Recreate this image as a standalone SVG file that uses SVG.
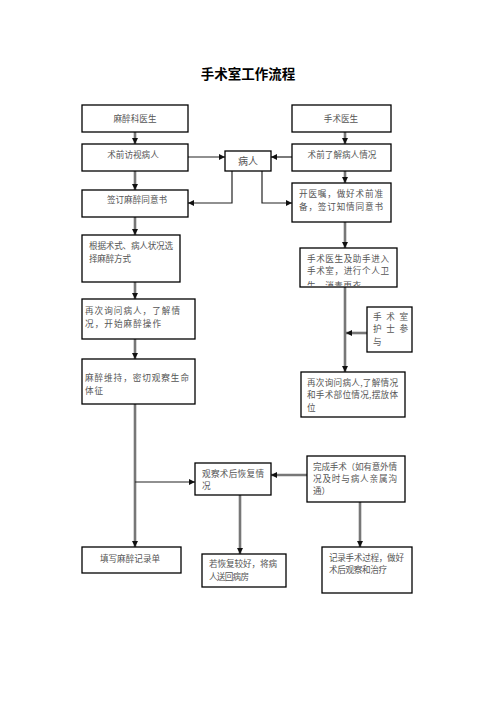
<svg xmlns="http://www.w3.org/2000/svg" width="496" height="702" viewBox="0 0 496 702">
<style>
.box{fill:#fff;stroke:#000;stroke-width:1.3}
.t{font-family:"Noto Sans CJK SC","Noto Sans CJK JP",sans-serif;font-size:8.6px;fill:#555}
.c{text-anchor:middle}
.thick{fill:none;stroke:#777;stroke-width:2.6}
.thin{fill:none;stroke:#222;stroke-width:1.2}
</style>
<defs>
<marker id="ah" viewBox="0 0 10 10" refX="10" refY="5" markerWidth="6" markerHeight="6" markerUnits="userSpaceOnUse" orient="auto">
<path d="M0,0 L10,5 L0,10 z" fill="#111"/>
</marker>
<clipPath id="clip1"><rect x="300" y="248" width="97" height="38"/></clipPath>
</defs>
<rect width="496" height="702" fill="#fff"/>
<text x="248" y="78.5" class="c" style="font-family:'Noto Sans CJK SC',sans-serif;font-size:13.5px;font-weight:bold;fill:#000">手术室工作流程</text>

<g id="connectors">
<line class="thick" x1="135" y1="132" x2="135" y2="144" marker-end="url(#ah)"/>
<line class="thick" x1="345" y1="132" x2="345" y2="144" marker-end="url(#ah)"/>
<line class="thin" x1="188" y1="157" x2="225" y2="157" marker-end="url(#ah)"/>
<line class="thin" x1="292" y1="157" x2="271" y2="157" marker-end="url(#ah)"/>
<polyline class="thin" points="232,171 232,203 188,203" marker-end="url(#ah)"/>
<polyline class="thin" points="262,171 262,203 292,203" marker-end="url(#ah)"/>
<line class="thick" x1="135" y1="171" x2="135" y2="190" marker-end="url(#ah)"/>
<line class="thick" x1="345" y1="171" x2="345" y2="183" marker-end="url(#ah)"/>
<line class="thick" x1="135" y1="217" x2="135" y2="235" marker-end="url(#ah)"/>
<line class="thick" x1="135" y1="282" x2="135" y2="299" marker-end="url(#ah)"/>
<line class="thick" x1="135" y1="339" x2="135" y2="359" marker-end="url(#ah)"/>
<line class="thick" x1="345" y1="222" x2="345" y2="248" marker-end="url(#ah)"/>
<line class="thick" x1="345" y1="287" x2="345" y2="372" marker-end="url(#ah)"/>
<line class="thick" x1="367" y1="333" x2="346" y2="333" marker-end="url(#ah)"/>
<line class="thick" x1="135" y1="404" x2="135" y2="547" marker-end="url(#ah)"/>
<line class="thin" x1="135" y1="482" x2="195" y2="482" marker-end="url(#ah)"/>
<line class="thick" x1="307" y1="475" x2="271" y2="475" marker-end="url(#ah)"/>
<line class="thick" x1="240" y1="495" x2="240" y2="554" marker-end="url(#ah)"/>
<line class="thick" x1="360" y1="502" x2="360" y2="547" marker-end="url(#ah)"/>
</g>

<g id="n1"><rect class="box" x="82" y="105" width="106" height="27"/><text class="t c" x="135" y="121.5">麻醉科医生</text></g>
<g id="n2"><rect class="box" x="292" y="105" width="99" height="27"/><text class="t c" x="341" y="121.5">手术医生</text></g>
<g id="n3"><rect class="box" x="82" y="144" width="106" height="27"/><text class="t c" x="133" y="157.5">术前访视病人</text></g>
<g id="n4"><rect class="box" x="225" y="151" width="46" height="20"/><text class="t c" x="248" y="164.5" style="font-size:10px">病人</text></g>
<g id="n5"><rect class="box" x="292" y="144" width="99" height="27"/><text class="t c" x="342" y="157.5">术前了解病人情况</text></g>
<g id="n6"><rect class="box" x="82" y="190" width="106" height="27"/><text class="t c" x="137" y="202.5">签订麻醉同意书</text></g>
<g id="n7"><rect class="box" x="292" y="183" width="99" height="39"/><text class="t" x="299" y="196.5" textLength="84">开医嘱，做好术前准</text><text class="t" x="299" y="209.5" textLength="84">备，签订知情同意书</text></g>
<g id="n8"><rect class="box" x="82" y="235" width="98" height="47"/><text class="t" x="89" y="248.5" textLength="84">根据术式、病人状况选</text><text class="t" x="89" y="262" textLength="42">择麻醉方式</text></g>
<g id="n9"><rect class="box" x="82" y="299" width="113" height="40"/><text class="t" x="85" y="313.5" textLength="95">再次询问病人，了解情</text><text class="t" x="85" y="326.5" textLength="76">况，开始麻醉操作</text></g>
<g id="n10"><rect class="box" x="82" y="359" width="113" height="45"/><text class="t" x="85" y="380.5" textLength="104">麻醉维持，密切观察生命</text><text class="t" x="85" y="394" textLength="18">体征</text></g>
<g id="n11"><rect class="box" x="300" y="248" width="97" height="39"/><g clip-path="url(#clip1)"><text class="t" x="307" y="261.5" textLength="82">手术医生及助手进入</text><text class="t" x="307" y="273.5" textLength="82">手术室，进行个人卫</text><text class="t" x="307" y="289" textLength="54">生，消毒更衣</text></g></g>
<g id="n12"><rect class="box" x="367" y="307" width="45" height="45"/><text class="t" x="373" y="319.5" textLength="35">手术室</text><text class="t" x="373" y="331.5" textLength="35">护士参</text><text class="t" x="373" y="344.5">与</text></g>
<g id="n13"><rect class="box" x="301" y="372" width="104" height="45"/><text class="t" x="307" y="385.5" textLength="91">再次询问病人,了解情况</text><text class="t" x="307" y="397.5" textLength="91">和手术部位情况,摆放体</text><text class="t" x="307" y="410.5">位</text></g>
<g id="n14"><rect class="box" x="307" y="456" width="98" height="46"/><text class="t" x="313" y="469.5" textLength="84">完成手术（如有意外情</text><text class="t" x="313" y="482" textLength="84">况及时与病人亲属沟</text><text class="t" x="313" y="494">通）</text></g>
<g id="n15"><rect class="box" x="195" y="463" width="76" height="32"/><text class="t" x="202" y="476.5" textLength="62">观察术后恢复情</text><text class="t" x="202" y="488.5">况</text></g>
<g id="n16"><rect class="box" x="82" y="547" width="99" height="26"/><text class="t c" x="130" y="561.5">填写麻醉记录单</text></g>
<g id="n17"><rect class="box" x="202" y="554" width="84" height="33"/><text class="t" x="209" y="566.5" textLength="68">若恢复较好，将病</text><text class="t" x="209" y="579.5" textLength="40">人送回病房</text></g>
<g id="n18"><rect class="box" x="322" y="547" width="90" height="46"/><text class="t" x="329" y="560.5" textLength="75">记录手术过程，做好</text><text class="t" x="329" y="572.5" textLength="58">术后观察和治疗</text></g>
</svg>
